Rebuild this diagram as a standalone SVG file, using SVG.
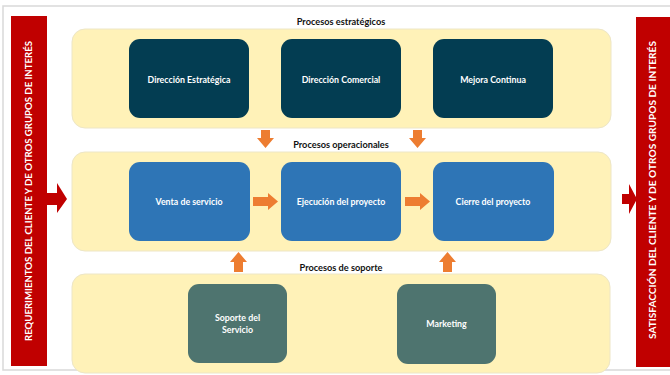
<svg xmlns="http://www.w3.org/2000/svg" width="670" height="375" viewBox="0 0 670 375">
<style>
.panel{fill:#FFF2B8;stroke:#EDE6C6;stroke-width:1}
.strat{fill:#033D52}
.oper{fill:#2E75B6}
.sup{fill:#4E746F}
.box{stroke:none}
.lbl{font-family:Lato,"Liberation Sans",sans-serif;font-weight:bold;font-size:8.8px;fill:#ffffff;text-anchor:middle}
.title{font-family:Lato,"Liberation Sans",sans-serif;font-weight:bold;font-size:9.2px;fill:#111111;text-anchor:middle}
.side{font-family:Lato,"Liberation Sans",sans-serif;font-weight:bold;font-size:8.5px;fill:#ffffff;text-anchor:middle}
.org{fill:#ED7D31}
.red{fill:#C00000}
</style>
<rect x="3" y="6" width="700" height="364" fill="#ffffff" stroke="#D9D9D9" stroke-width="1.5"/>

<g id="panel-estrategicos">
<rect class="panel" x="72" y="29" width="539" height="99" rx="13"/>
<text class="title" x="341" y="25">Procesos estratégicos</text>
</g>
<g id="panel-operacionales">
<rect class="panel" x="72" y="152" width="539" height="99" rx="13"/>
<text class="title" x="341" y="148">Procesos operacionales</text>
</g>
<g id="panel-soporte">
<rect class="panel" x="72" y="274" width="538" height="99" rx="13"/>
<text class="title" x="341" y="271">Procesos de soporte</text>
</g>

<g id="requerimientos">
<rect class="red" x="11" y="16" width="36" height="350"/>
<text class="side" transform="translate(32,191) rotate(-90)" textLength="300" lengthAdjust="spacingAndGlyphs">REQUERIMIENTOS DEL CLIENTE Y DE OTROS GRUPOS DE INTERÉS</text>
</g>
<g id="satisfaccion">
<rect class="red" x="636" y="17" width="34" height="350"/>
<text class="side" transform="translate(656,190) rotate(-90)" textLength="298" lengthAdjust="spacingAndGlyphs">SATISFACCIÓN DEL CLIENTE Y DE OTROS GRUPOS DE INTERÉS</text>
</g>

<g id="direccion-estrategica"><rect class="box strat" x="129" y="39" width="120" height="79" rx="11"/><text class="lbl" x="189" y="83">Dirección Estratégica</text></g>
<g id="direccion-comercial"><rect class="box strat" x="281" y="39" width="120" height="79" rx="11"/><text class="lbl" x="341" y="83">Dirección Comercial</text></g>
<g id="mejora-continua"><rect class="box strat" x="433" y="39" width="120" height="79" rx="11"/><text class="lbl" x="493" y="83">Mejora Continua</text></g>

<g id="venta-servicio"><rect class="box oper" x="129" y="162" width="121" height="79" rx="11"/><text class="lbl" x="189" y="205">Venta de servicio</text></g>
<g id="ejecucion-proyecto"><rect class="box oper" x="281" y="162" width="120" height="79" rx="11"/><text class="lbl" x="341" y="205">Ejecución del proyecto</text></g>
<g id="cierre-proyecto"><rect class="box oper" x="433" y="162" width="121" height="79" rx="11"/><text class="lbl" x="493" y="205">Cierre del proyecto</text></g>

<g id="soporte-servicio"><rect class="box sup" x="188" y="284" width="99" height="79" rx="11"/><text class="lbl" x="237.5" y="321">Soporte del</text><text class="lbl" x="237.5" y="333">Servicio</text></g>
<g id="marketing"><rect class="box sup" x="397" y="284" width="99" height="80" rx="11"/><text class="lbl" x="446.5" y="327">Marketing</text></g>

<g id="connectors">
<polygon class="red" points="47,193 57,193 57,183 67,199 57,213 57,205 47,205"/>
<polygon class="red" points="622,194 629,194 629,184 637,199 629,214 629,204 622,204"/>
<polygon class="org" points="261,130 270,130 270,138 274,138 265.5,148 257,138 261,138"/>
<polygon class="org" points="413,130 422,130 422,138 426,138 417.5,148 409,138 413,138"/>
<polygon class="org" points="253,197 268,197 268,193 278,201.5 268,210 268,206 253,206"/>
<polygon class="org" points="405,197 420,197 420,193 430,201.5 420,210 420,206 405,206"/>
<polygon class="org" points="234,272 243,272 243,262 247,262 238.5,252 230,262 234,262"/>
<polygon class="org" points="443,272 452,272 452,262 456,262 447.5,252 439,262 443,262"/>
</g>
</svg>
